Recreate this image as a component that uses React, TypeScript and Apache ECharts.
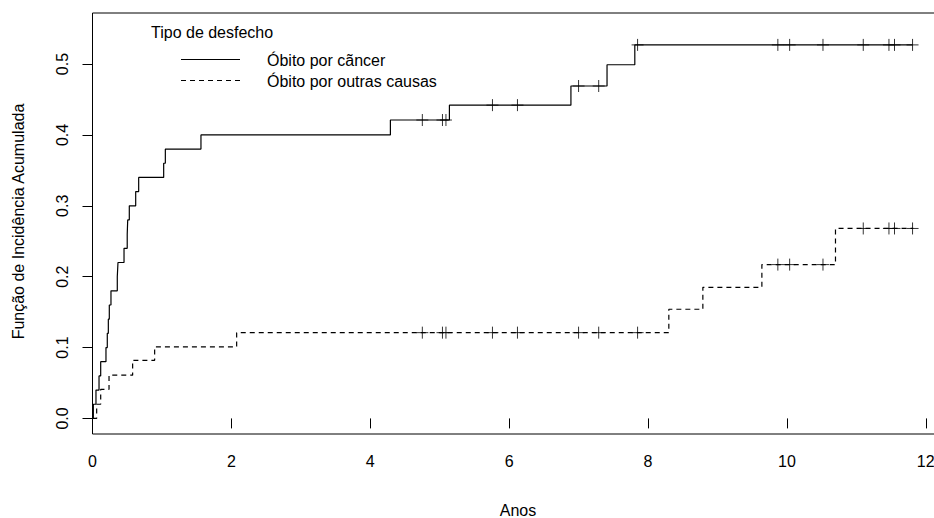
import React, { useEffect, useRef } from "react";
import * as echarts from "echarts";

// Cumulative incidence: death by cancer (solid)
const cancerTimes = [0, 0.012, 0.05, 0.094, 0.118, 0.194, 0.213, 0.228, 0.242, 0.266, 0.357, 0.367, 0.454, 0.5, 0.507, 0.53, 0.622, 0.665, 1.025, 1.049, 1.562, 4.29, 5.14, 6.89, 7.41, 7.81, 11.81];
const cancerValues = [0, 0.02, 0.04, 0.06, 0.08, 0.1, 0.12, 0.14, 0.16, 0.18, 0.2, 0.22, 0.24, 0.26, 0.28, 0.3, 0.32, 0.34, 0.36, 0.38, 0.4, 0.421, 0.442, 0.469, 0.499, 0.527, 0.527];

// Cumulative incidence: death by other causes (dashed)
const otherTimes = [0, 0.06, 0.118, 0.238, 0.578, 0.895, 2.076, 8.3, 8.79, 9.64, 10.7, 11.82];
const otherValues = [0, 0.02, 0.041, 0.061, 0.082, 0.101, 0.121, 0.154, 0.185, 0.217, 0.268, 0.268];

// Censoring times (shown as "+" on both curves)
const censorTimes = [4.75, 5.04, 5.09, 5.76, 6.12, 7.0, 7.29, 7.85, 9.87, 10.04, 10.52, 11.1, 11.47, 11.55, 11.81];

const xTicks = [0, 2, 4, 6, 8, 10, 12];
const yTicks = [0, 0.1, 0.2, 0.3, 0.4, 0.5];

const legendTitle = "Tipo de desfecho";
const seriesNames = ["Óbito por cãncer", "Óbito por outras causas"];
const xTitle = "Anos";
const yTitle = "Função de Incidência Acumulada";

const FONT = "'Liberation Sans', Arial, sans-serif";

function stepValueAt(times: number[], values: number[], t: number): number {
  let v = values[0];
  for (let i = 0; i < times.length; i++) {
    if (times[i] <= t) v = values[i];
  }
  return v;
}

const plusSymbol = "path://M5,0L5,10M0,5L10,5";

export default function App() {
  const ref = useRef<HTMLDivElement>(null);

  useEffect(() => {
    if (!ref.current) return;
    const chart = echarts.init(ref.current, null, { renderer: "svg" });

    const cancerData = cancerTimes.map((t, i) => [t, cancerValues[i]]);
    const otherData = otherTimes.map((t, i) => [t, otherValues[i]]);
    const cancerCensor = censorTimes.map((t) => [t, stepValueAt(cancerTimes, cancerValues, t)]);
    const otherCensor = censorTimes.map((t) => [t, stepValueAt(otherTimes, otherValues, t)]);

    const gridLeft = 92.5;
    const gridTop = 13;
    const gridH = 421;
    const gridW = 852;

    chart.setOption({
      animation: false,
      backgroundColor: "#fff",
      textStyle: { fontFamily: FONT },
      grid: {
        left: gridLeft,
        top: gridTop,
        width: gridW,
        height: gridH,
        show: true,
        borderColor: "#000",
        borderWidth: 1,
        backgroundColor: "transparent",
        containLabel: false,
        outerBoundsMode: "none",
      },
      xAxis: {
        type: "value",
        min: 0,
        max: 12.27,
        axisLine: { show: false },
        splitLine: { show: false },
        axisTick: {
          show: true,
          length: 10,
          customValues: xTicks,
          lineStyle: { color: "#000", width: 1 },
        },
        axisLabel: {
          show: true,
          customValues: xTicks,
          margin: 19,
          fontSize: 16,
          color: "#000",
          fontFamily: FONT,
          formatter: (v: number) => String(v),
        },
      },
      yAxis: {
        type: "value",
        min: -0.022,
        max: 0.572,
        axisLine: { show: false },
        splitLine: { show: false },
        axisTick: {
          show: true,
          length: 10,
          customValues: yTicks,
          lineStyle: { color: "#000", width: 1 },
        },
        axisLabel: {
          show: true,
          customValues: yTicks,
          rotate: 90,
          margin: 22,
          fontSize: 16,
          color: "#000",
          fontFamily: FONT,
          formatter: (v: number) => v.toFixed(1),
        },
      },
      series: [
        {
          name: seriesNames[0],
          type: "line",
          step: "end",
          data: cancerData,
          showSymbol: false,
          symbol: "none",
          lineStyle: { color: "#000", width: 1.2, type: "solid" },
          z: 2,
        },
        {
          name: seriesNames[1],
          type: "line",
          step: "end",
          data: otherData,
          showSymbol: false,
          symbol: "none",
          lineStyle: { color: "#000", width: 1.2, type: [5, 4] },
          z: 2,
        },
        {
          name: seriesNames[0] + " censura",
          type: "scatter",
          data: cancerCensor,
          symbol: plusSymbol,
          symbolSize: 12,
          itemStyle: { color: "transparent", borderColor: "#000", borderWidth: 1 },
          z: 3,
        },
        {
          name: seriesNames[1] + " censura",
          type: "scatter",
          data: otherCensor,
          symbol: plusSymbol,
          symbolSize: 12,
          itemStyle: { color: "transparent", borderColor: "#000", borderWidth: 1 },
          z: 3,
        },
      ],
      graphic: [
        {
          type: "text",
          x: 518,
          y: 510,
          style: { text: xTitle, font: `16px ${FONT}`, fill: "#000", align: "center", verticalAlign: "middle" },
        },
        {
          type: "text",
          x: 18,
          y: gridTop + gridH / 2 - 2,
          rotation: Math.PI / 2,
          style: { text: yTitle, font: `16px ${FONT}`, fill: "#000", align: "center", verticalAlign: "middle" },
        },
        {
          type: "text",
          x: 151,
          y: 32,
          style: { text: legendTitle, font: `16px ${FONT}`, fill: "#000", align: "left", verticalAlign: "middle" },
        },
        {
          type: "line",
          shape: { x1: 181, y1: 59.5, x2: 240, y2: 59.5 },
          style: { stroke: "#000", lineWidth: 1.2 },
        },
        {
          type: "line",
          shape: { x1: 181, y1: 80.5, x2: 240, y2: 80.5 },
          style: { stroke: "#000", lineWidth: 1.2, lineDash: [5, 4] },
        },
        {
          type: "text",
          x: 267,
          y: 60,
          style: { text: seriesNames[0], font: `16px ${FONT}`, fill: "#000", align: "left", verticalAlign: "middle" },
        },
        {
          type: "text",
          x: 267,
          y: 81,
          style: { text: seriesNames[1], font: `16px ${FONT}`, fill: "#000", align: "left", verticalAlign: "middle" },
        },
      ],
    });

    return () => chart.dispose();
  }, []);

  return (
    <div
      ref={ref}
      style={{ position: "absolute", left: 0, top: 0, width: 934, height: 518, background: "#fff" }}
    />
  );
}
